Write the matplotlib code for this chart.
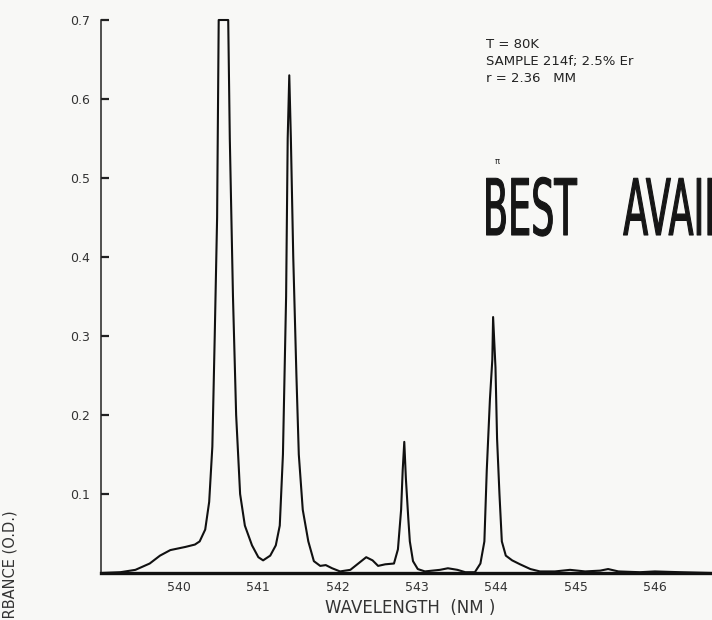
import matplotlib
matplotlib.use("Agg")
import matplotlib.pyplot as plt
import matplotlib.patheffects as pe
from matplotlib.transforms import Affine2D

# ---- data ----
wavelength = [539.02, 539.26, 539.45, 539.63, 539.76, 539.89, 540.08, 540.20, 540.26,
              540.33, 540.38, 540.42, 540.45, 540.48, 540.50, 540.62, 540.64, 540.68,
              540.72, 540.77, 540.83, 540.92, 541.00, 541.06, 541.15, 541.22, 541.27,
              541.31, 541.35, 541.37, 541.39, 541.41, 541.44, 541.48, 541.51, 541.56,
              541.63, 541.70, 541.78, 541.85, 541.93, 542.03, 542.16, 542.26, 542.36,
              542.44, 542.51, 542.60, 542.71, 542.76, 542.80, 542.82, 542.84, 542.86,
              542.89, 542.91, 542.95, 543.01, 543.10, 543.29, 543.39, 543.51, 543.61,
              543.73, 543.80, 543.85, 543.88, 543.92, 543.95, 543.96, 543.99, 544.01,
              544.04, 544.07, 544.12, 544.20, 544.30, 544.43, 544.55, 544.74, 544.93,
              545.12, 545.31, 545.41, 545.54, 545.81, 546.00, 546.32, 546.72]
absorbance = [0.000, 0.001, 0.004, 0.012, 0.022, 0.029, 0.033, 0.036, 0.040,
              0.055, 0.090, 0.160, 0.300, 0.450, 0.700, 0.700, 0.550, 0.350,
              0.200, 0.100, 0.060, 0.035, 0.020, 0.016, 0.022, 0.035, 0.060,
              0.150, 0.350, 0.550, 0.630, 0.550, 0.400, 0.250, 0.150, 0.080,
              0.040, 0.015, 0.009, 0.010, 0.006, 0.002, 0.004, 0.012, 0.020,
              0.016, 0.009, 0.011, 0.012, 0.030, 0.080, 0.130, 0.166, 0.120,
              0.070, 0.040, 0.015, 0.005, 0.002, 0.004, 0.006, 0.004, 0.001,
              0.001, 0.012, 0.040, 0.130, 0.220, 0.270, 0.324, 0.260, 0.170,
              0.100, 0.040, 0.022, 0.016, 0.011, 0.005, 0.002, 0.002, 0.004,
              0.002, 0.003, 0.005, 0.002, 0.001, 0.002, 0.001, 0.000]

x_ticks = [540, 541, 542, 543, 544, 545, 546]
x_tick_labels = ["540", "541", "542", "543", "544", "545", "546"]
y_ticks = [0.1, 0.2, 0.3, 0.4, 0.5, 0.6, 0.7]
y_tick_labels = ["0.1", "0.2", "0.3", "0.4", "0.5", "0.6", "0.7"]

notes = ["T = 80K", "SAMPLE 214f; 2.5% Er", "r = 2.36   MM"]
stamp = "BEST    AVAILABLE COPY"


class Squeeze(pe.AbstractPathEffect):
    """Draw text glyphs compressed horizontally about x0 (display px),
    with a thin outline to thicken strokes (condensed stamp look)."""

    def __init__(self, sx, x0, lw):
        super().__init__()
        self._t = Affine2D().translate(-x0, 0).scale(sx, 1).translate(x0, 0)
        self._lw = lw

    def draw_path(self, renderer, gc, tpath, affine, rgbFace=None):
        gc0 = renderer.new_gc()
        gc0.copy_properties(gc)
        gc0.set_linewidth(self._lw)
        gc0.set_joinstyle("round")
        renderer.draw_path(gc0, tpath, affine + self._t, rgbFace)
        gc0.restore()


W, H = 712, 620
fig = plt.figure(figsize=(W / 100, H / 100), dpi=100, facecolor="#f8f8f6")
ax = fig.add_axes([101 / W, (H - 573) / H, (W - 101) / W, (573 - 20) / H])
ax.set_facecolor("none")

ax.plot(wavelength, absorbance, color="#111111", lw=1.5, clip_on=False,
        solid_joinstyle="round")
ax.set_xlim(539.016, 546.72)
ax.set_ylim(0, 0.7)

for s in ["top", "right"]:
    ax.spines[s].set_visible(False)
ax.spines["bottom"].set_linewidth(2.4)
ax.spines["bottom"].set_color("#111111")
ax.spines["left"].set_linewidth(1.1)
ax.spines["left"].set_color("#222222")

ax.set_xticks(x_ticks)
ax.set_xticklabels(x_tick_labels)
ax.tick_params(axis="x", length=0, pad=6, labelsize=9, labelcolor="#333333")
ax.set_yticks(y_ticks)
ax.set_yticklabels(y_tick_labels)
ax.tick_params(axis="y", direction="in", length=6, width=1.6, color="#222222",
               pad=8, labelsize=9, labelcolor="#333333")

fig.text(410 / W, 1 - 608 / H, "WAVELENGTH  (NM )", ha="center", va="center",
         fontsize=12, color="#333333")
fig.text(10 / W, 1 - 585 / H, "ABSORBANCE (O.D.)", rotation=90, ha="center",
         va="center", fontsize=10.5, color="#333333")

for i, line in enumerate(notes):
    fig.text(486 / W, 1 - (44 + 17.5 * i) / H, line, fontsize=9.5, va="center",
             color="#222222")

fig.text(497 / W, 1 - 162 / H, "π", fontsize=6, va="center", ha="center",
         color="#222222")
fig.text(483 / W, 1 - 235 / H, stamp, fontsize=56, va="baseline", ha="left",
         color="#161616", path_effects=[Squeeze(0.47, 483, 0.8)])

fig.savefig("out.png", dpi=100, facecolor=fig.get_facecolor())
